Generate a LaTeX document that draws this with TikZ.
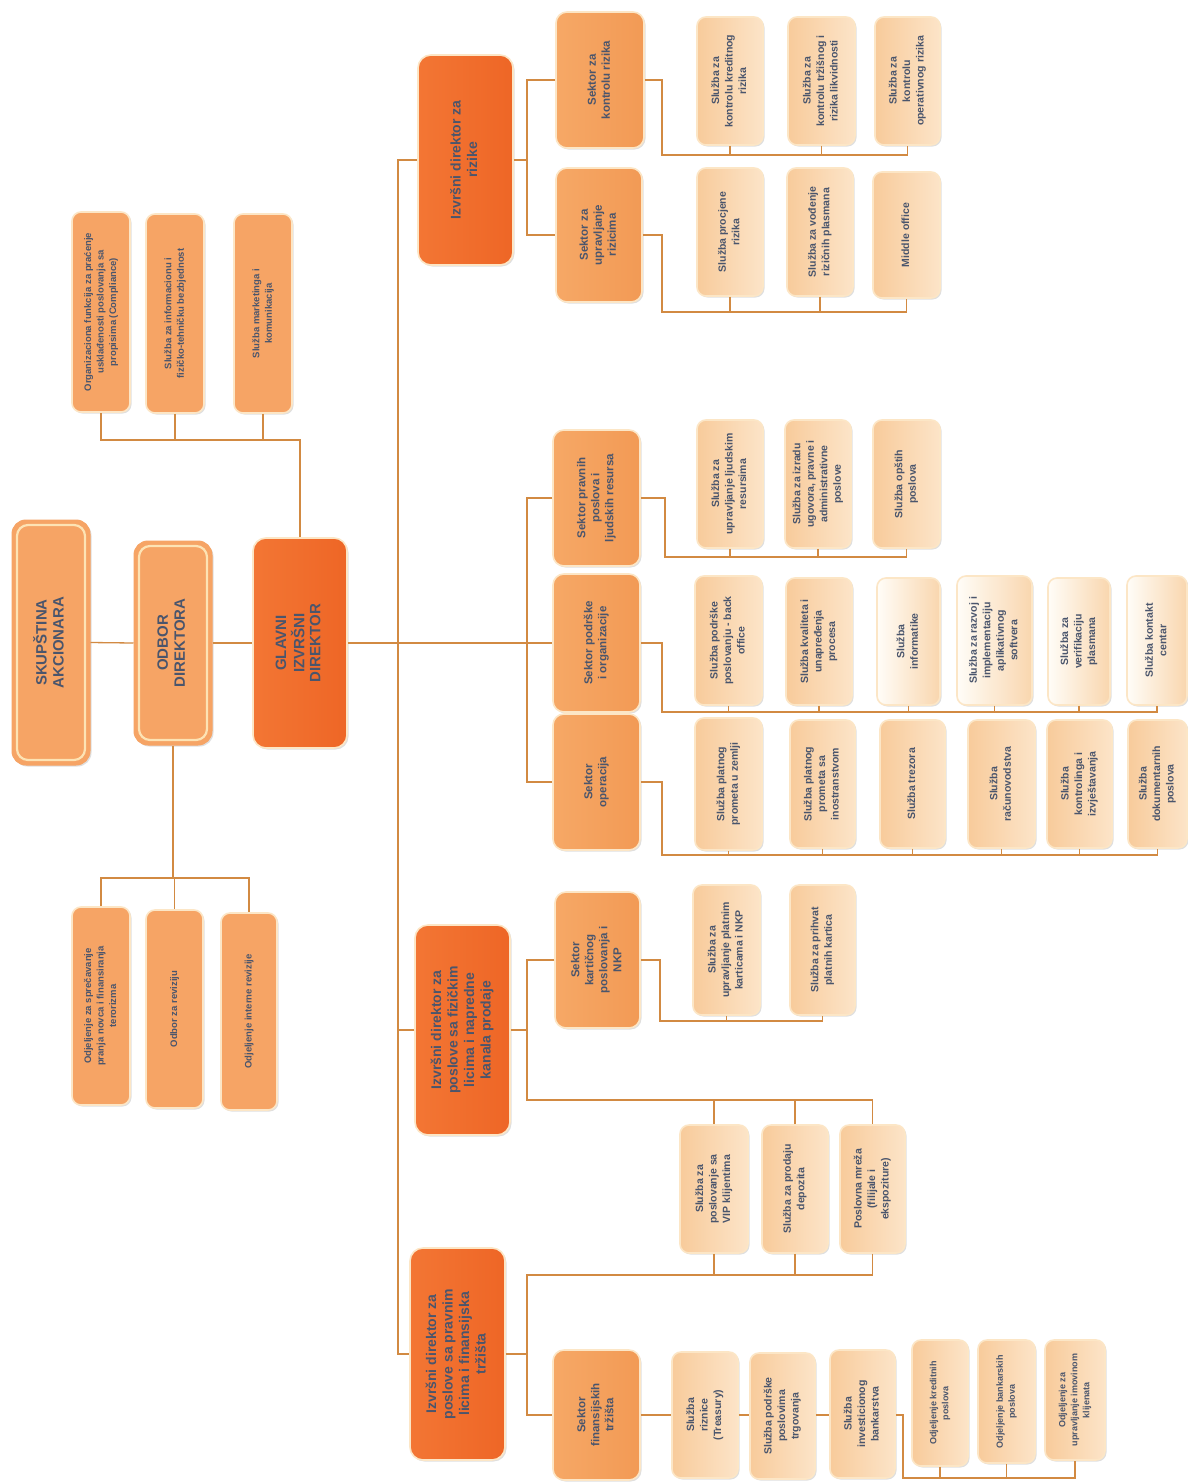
\documentclass[tikz,border=0pt]{standalone}
\usepackage{fontspec}
\setmainfont{Liberation Sans}
\usepackage{graphicx}
\usetikzlibrary{shadows}
\definecolor{lnC}{HTML}{D28A42}
\definecolor{txtC}{HTML}{4A556C}
\definecolor{creamC}{HTML}{FCE6C6}
\definecolor{creamD}{HTML}{FDE3B4}
\definecolor{darkA}{HTML}{F37634}
\definecolor{darkB}{HTML}{EE6626}
\definecolor{midC}{HTML}{F6A465}
\definecolor{sekA}{HTML}{F6A866}
\definecolor{sekB}{HTML}{F29A55}
\definecolor{peaA}{HTML}{F8CB9B}
\definecolor{peaB}{HTML}{FCE4C8}
\definecolor{whA}{HTML}{FFFDF8}
\definecolor{whB}{HTML}{F9D6AE}
\newcommand\bx[7]{%
 \pgfmathsetmacro\bxcx{(#3+#5)/2}%
 \pgfmathsetmacro\bxcy{(#4+#6)/2}%
 \pgfmathsetmacro\bxw{#5-#3}%
 \pgfmathsetmacro\bxh{#6-#4}%
 \node[#1, minimum width=\bxw pt, minimum height=\bxh pt] (#2) at (\bxcx,\bxcy) {\rotatebox{90}{\begin{tabular}{@{}c@{}}#7\end{tabular}}};%
}
\tikzset{
 ln/.style={draw=lnC, line width=1.3pt},
 basebox/.style={rounded corners=9pt, draw=creamC, line width=1.6pt, inner sep=0pt, text=txtC,
   drop shadow={shadow xshift=1.5pt, shadow yshift=-1.5pt, opacity=0.25}},
 topbox/.style={basebox, rounded corners=13pt, left color=darkA, right color=darkB, font=\fontsize{14}{16.5}\selectfont\bfseries},
 ceobox/.style={basebox, rounded corners=14pt, draw=midC, line width=1pt, fill=midC, font=\fontsize{15}{17}\selectfont\bfseries,
   path picture={\draw[creamD, line width=2.2pt, rounded corners=11pt]
     ([shift={(5pt,-5pt)}]path picture bounding box.north west) rectangle
     ([shift={(-5pt,5pt)}]path picture bounding box.south east);}},
 sidebox/.style={basebox, fill=midC, font=\fontsize{9.5}{12.5}\selectfont\bfseries},
 sektbox/.style={basebox, rounded corners=11pt, left color=sekA, right color=sekB, font=\fontsize{11.5}{14}\selectfont\bfseries},
 slbox/.style={basebox, left color=peaA, right color=peaB, font=\fontsize{10.5}{13.5}\selectfont\bfseries},
 slwbox/.style={basebox, left color=whA, right color=whB, font=\fontsize{10.5}{13.5}\selectfont\bfseries},
 odbox/.style={basebox, left color=peaA, right color=peaB, font=\fontsize{9}{12}\selectfont\bfseries},
}
\begin{document}
\begin{tikzpicture}[x=1pt,y=-1pt]
\useasboundingbox (0,0) rectangle (1188,1484);
\fill[white] (0,0) rectangle (1188,1484);

% top management
\bx{ceobox}{skup}{12}{520}{90}{765}{SKUPŠTINA\\AKCIONARA}
\bx{ceobox}{odbor}{134}{541}{212}{745}{ODBOR\\DIREKTORA}
\bx{topbox, font=\fontsize{15}{16}\selectfont\bfseries}{glavni}{253}{538}{347}{748}{GLAVNI\\IZVRŠNI\\DIREKTOR}

% top-left staff units
\bx{sidebox}{tl1}{72}{212}{130}{412}{Organizaciona funkcija za praćenje\\usklađenosti poslovanja sa\\propisima (Compliance)}
\bx{sidebox}{tl2}{146}{214}{204}{413}{Služba za informacionu i\\fizičko-tehničku bezbjednost}
\bx{sidebox}{tl3}{234}{214}{292}{413}{Služba marketinga i\\komunikacija}

% bottom-left units
\bx{sidebox}{bl1}{72}{907}{130}{1105}{Odjeljenje za sprečavanje\\pranja novca i finansiranja\\terorizma}
\bx{sidebox}{bl2}{146}{910}{203}{1108}{Odbor za reviziju}
\bx{sidebox}{bl3}{221}{913}{277}{1110}{Odjeljenje interne revizije}

% executive directors
\bx{topbox}{izR}{418}{55}{513}{265}{Izvršni direktor za\\rizike}
\bx{topbox}{izF}{415}{925}{510}{1135}{Izvršni direktor za\\poslove sa fizičkim\\licima i napredne\\kanala prodaje}
\bx{topbox}{izP}{410}{1248}{505}{1460}{Izvršni direktor za\\poslove sa pravnim\\licima i finansijska\\tržišta}

% sectors
\bx{sektbox}{skr}{556}{12}{644}{148}{Sektor za\\kontrolu rizika}
\bx{sektbox}{sur}{556}{168}{642}{302}{Sektor za\\upravljanje\\rizicima}
\bx{sektbox}{spr}{553}{430}{640}{566}{Sektor pravnih\\poslova i\\ljudskih resursa}
\bx{sektbox}{spo}{553}{574}{640}{712}{Sektor podrške\\i organizacije}
\bx{sektbox}{sop}{553}{714}{640}{850}{Sektor\\operacija}
\bx{sektbox}{skp}{555}{892}{640}{1028}{Sektor\\kartičnog\\poslovanja i\\NKP}
\bx{sektbox}{sft}{553}{1350}{640}{1480}{Sektor\\finansijskih\\tržišta}

% risk control services
\bx{slbox}{k1}{697}{17}{763}{145}{Služba za\\kontrolu kreditnog\\rizika}
\bx{slbox}{k2}{788}{17}{855}{145}{Služba za\\kontrolu tržišnog i\\rizika likvidnosti}
\bx{slbox}{k3}{875}{17}{940}{145}{Služba za\\kontrolu\\operativnog rizika}
% risk management services
\bx{slbox}{u1}{697}{168}{763}{296}{Služba procjene\\rizika}
\bx{slbox}{u2}{787}{168}{853}{296}{Služba za vođenje\\rizičnih plasmana}
\bx{slbox}{u3}{873}{172}{940}{298}{Middle office}
% legal
\bx{slbox}{p1}{697}{420}{763}{548}{Služba za\\upravljanje ljudskim\\resursima}
\bx{slbox}{p2}{785}{420}{851}{548}{Služba za izradu\\ugovora, pravne i\\administrativne\\poslove}
\bx{slbox}{p3}{873}{420}{940}{548}{Služba opštih\\poslova}
% support
\bx{slbox}{o1}{695}{576}{762}{705}{Služba podrške\\poslovanju - back\\office}
\bx{slbox}{o2}{786}{578}{852}{705}{Služba kvaliteta i\\unapređenja\\procesa}
\bx{slwbox}{o3}{877}{578}{940}{705}{Služba\\informatike}
\bx{slwbox}{o4}{957}{576}{1032}{705}{Služba za razvoj i\\implementaciju\\aplikativnog\\softvera}
\bx{slwbox}{o5}{1048}{578}{1110}{705}{Služba za\\verifikaciju\\plasmana}
\bx{slwbox}{o6}{1127}{576}{1187}{705}{Služba kontakt\\centar}
% operations
\bx{slbox}{s1}{695}{718}{762}{850}{Služba platnog\\prometa u zemlji}
\bx{slbox}{s2}{790}{720}{855}{848}{Služba platnog\\prometa sa\\inostranstvom}
\bx{slbox}{s3}{880}{720}{945}{848}{Služba trezora}
\bx{slbox}{s4}{968}{720}{1035}{848}{Služba\\računovodstva}
\bx{slbox}{s5}{1047}{720}{1112}{848}{Služba\\kontrolinga i\\izvještavanja}
\bx{slbox}{s6}{1128}{720}{1187}{848}{Služba\\dokumentarnih\\poslova}
% cards
\bx{slbox}{c1}{693}{885}{760}{1015}{Služba za\\upravljanje platnim\\karticama i NKP}
\bx{slbox}{c2}{790}{885}{855}{1015}{Služba za prihvat\\platnih kartica}
% retail
\bx{slbox}{v1}{680}{1125}{748}{1253}{Služba za\\poslovanje sa\\VIP klijentima}
\bx{slbox}{v2}{762}{1125}{828}{1253}{Služba za prodaju\\depozita}
\bx{slbox}{v3}{840}{1125}{905}{1253}{Poslovna mreža\\(filijale i\\ekspoziture)}
% financial markets
\bx{slbox}{f1}{672}{1352}{738}{1478}{Služba\\riznice\\(Treasury)}
\bx{slbox}{f2}{750}{1353}{815}{1479}{Služba podrške\\poslovima\\trgovanja}
\bx{slbox}{f3}{830}{1350}{895}{1478}{Služba\\investicionog\\bankarstva}
\bx{odbox}{g1}{912}{1340}{968}{1466}{Odjeljenje kreditnih\\poslova}
\bx{odbox}{g2}{978}{1340}{1035}{1463}{Odjeljenje bankarskih\\poslova}
\bx{odbox}{g3}{1045}{1340}{1105}{1460}{Odjeljenje za\\upravljanje imovinom\\klijenata}

% ---------- connectors ----------
\draw[ln] (skup.east) -- (odbor.west);
\draw[ln] (odbor.east) -- (glavni.west);
\draw[ln] (glavni.east) -- (glavni.east -| spo.west);

\coordinate (tlbus) at (0,440);
\draw[ln] (glavni.north) -- (glavni.north |- tlbus) -- (tlbus -| tl1.south) -- (tl1.south);
\draw[ln] (tl2.south) -- (tl2.south |- tlbus);
\draw[ln] (tl3.south) -- (tl3.south |- tlbus);

\coordinate (blbus) at (0,878);
\draw[ln] (odbor.south) -- (odbor.south |- blbus);
\draw[ln] (bl1.north) -- (bl1.north |- blbus) -- (blbus -| bl3.north) -- (bl3.north);
\draw[ln] (bl2.north) -- (bl2.north |- blbus);

\coordinate (sp) at (398,0);
\draw[ln] (izR.west) -- (izR.west -| sp) -- (izP.west -| sp) -- (izP.west);
\draw[ln] (izF.west) -- (izF.west -| sp);

\coordinate (b1) at (527,0);
\draw[ln] (izR.east) -- (izR.east -| b1);
\draw[ln] (skr.west) -- (skr.west -| b1) -- (sur.west -| b1) -- (sur.west);
\draw[ln] (spr.west) -- (spr.west -| b1) -- (sop.west -| b1) -- (sop.west);

\coordinate (vtop) at (0,1100);
\draw[ln] (izF.east) -- (izF.east -| b1);
\draw[ln] (skp.west) -- (skp.west -| b1) -- (b1 |- vtop) -- (vtop -| v3.north) -- (v3.north);
\draw[ln] (v1.north) -- (v1.north |- vtop);
\draw[ln] (v2.north) -- (v2.north |- vtop);

\coordinate (vbot) at (0,1275);
\draw[ln] (izP.east) -- (izP.east -| b1);
\draw[ln] (v3.south) -- (v3.south |- vbot) -- (vbot -| b1) -- (b1 |- sft.west) -- (sft.west);
\draw[ln] (v1.south) -- (v1.south |- vbot);
\draw[ln] (v2.south) -- (v2.south |- vbot);

\coordinate (kb) at (662,155);
\draw[ln] (skr.east) -- (skr.east -| kb) -- (kb) -- (kb -| k3.south) -- (k3.south);
\draw[ln] (k1.south) -- (k1.south |- kb);
\draw[ln] (k2.south) -- (k2.south |- kb);

\coordinate (ub) at (662,312);
\draw[ln] (sur.east) -- (sur.east -| ub) -- (ub) -- (ub -| u3.south) -- (u3.south);
\draw[ln] (u1.south) -- (u1.south |- ub);
\draw[ln] (u2.south) -- (u2.south |- ub);

\coordinate (pb) at (665,557);
\draw[ln] (spr.east) -- (spr.east -| pb) -- (pb) -- (pb -| p3.south) -- (p3.south);
\draw[ln] (p1.south) -- (p1.south |- pb);
\draw[ln] (p2.south) -- (p2.south |- pb);

\coordinate (obus) at (662,712);
\draw[ln] (spo.east) -- (spo.east -| obus) -- (obus) -- (obus -| o6.south) -- (o6.south);
\foreach \n in {o1,o2,o3,o4,o5} \draw[ln] (\n.south) -- (\n.south |- obus);

\coordinate (sb) at (662,855);
\draw[ln] (sop.east) -- (sop.east -| sb) -- (sb) -- (sb -| s6.south) -- (s6.south);
\foreach \n in {s1,s2,s3,s4,s5} \draw[ln] (\n.south) -- (\n.south |- sb);

\coordinate (cb) at (660,1021);
\draw[ln] (skp.east) -- (skp.east -| cb) -- (cb) -- (cb -| c2.south) -- (c2.south);
\draw[ln] (c1.south) -- (c1.south |- cb);

\coordinate (fy) at (0,1415);
\draw[ln] (sft.east) -- (fy -| f1.west);
\draw[ln] (fy -| f1.east) -- (fy -| f2.west);
\draw[ln] (fy -| f2.east) -- (fy -| f3.west);
\coordinate (gb) at (903,1478);
\draw[ln] (fy -| f3.east) -- (fy -| gb) -- (gb) -- (gb -| g3.south) -- (g3.south);
\draw[ln] (g1.south) -- (g1.south |- gb);
\draw[ln] (g2.south) -- (g2.south |- gb);
\end{tikzpicture}
\end{document}
